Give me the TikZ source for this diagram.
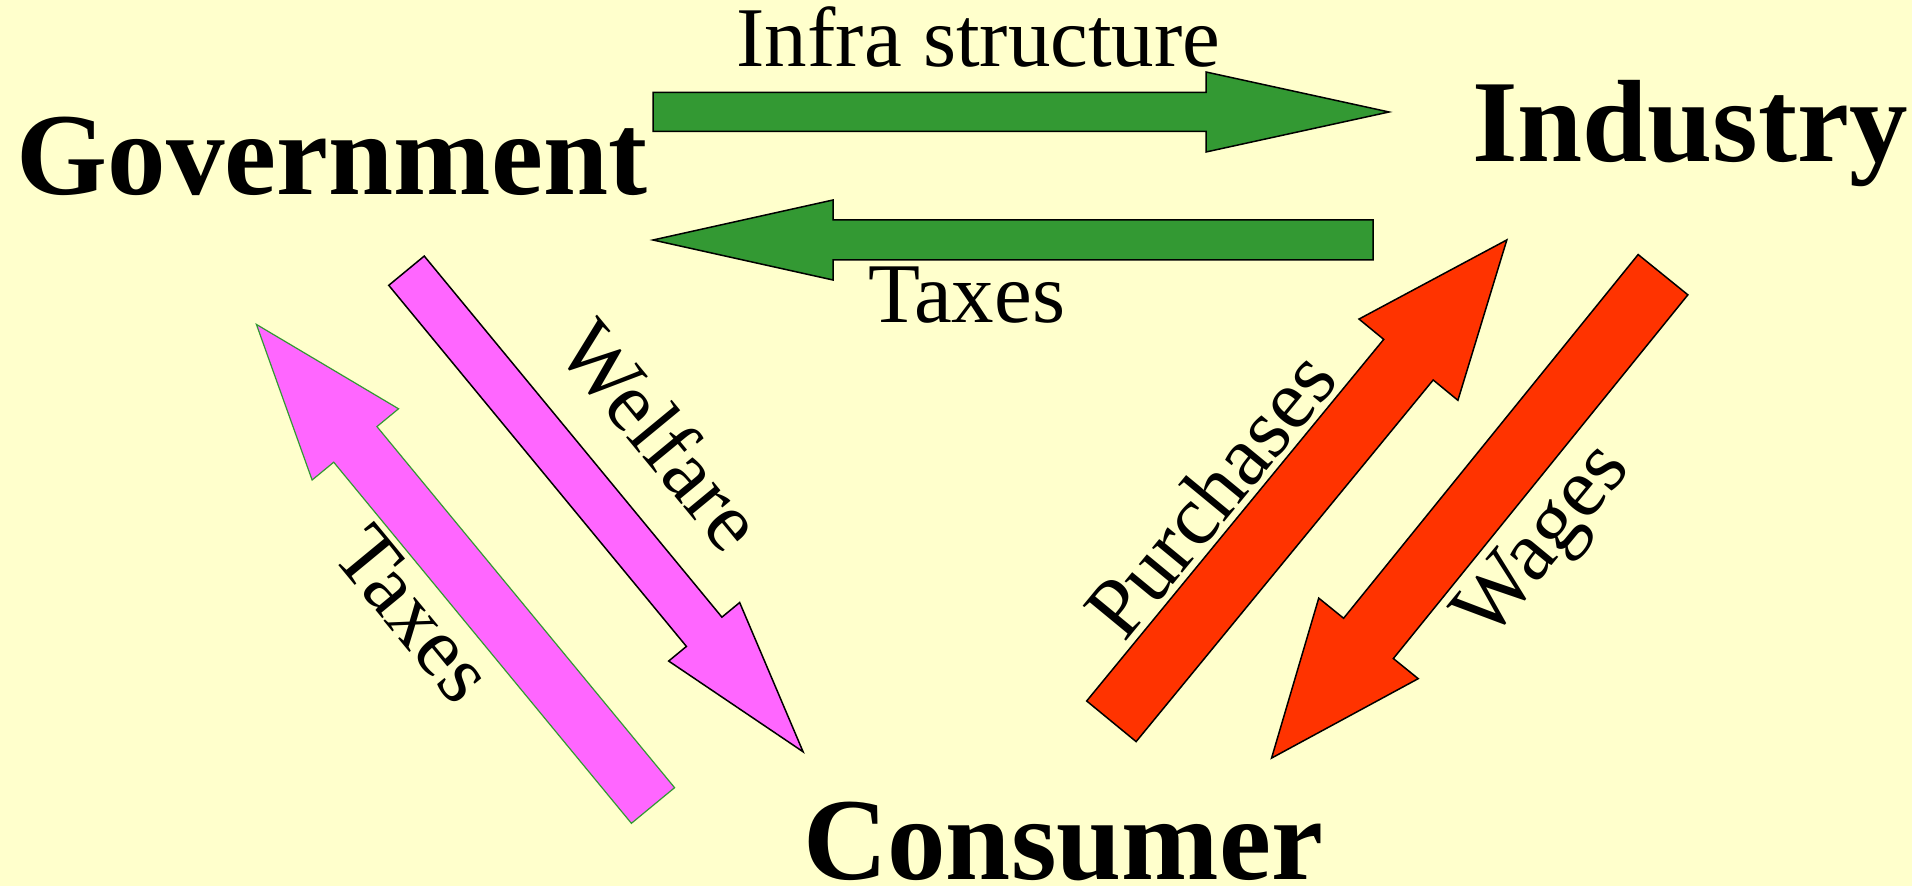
\documentclass[tikz,border=0pt]{standalone}
\usepackage{fontspec}
\setmainfont{Liberation Serif}
\usepackage{tikz}
\usetikzlibrary{positioning}
\definecolor{paper}{HTML}{FFFFCC}
\definecolor{leafgreen}{HTML}{339933}
\definecolor{pinkish}{HTML}{FF66FF}
\definecolor{flame}{HTML}{FF3300}
% #1 style, #2 tail, #3 angle, #4 shaft, #5 head, #6 half shaft, #7 half head
\newcommand{\blockarrow}[7]{%
  \begin{scope}[shift={(#2)},rotate=#3]
    \draw[#1] (0,-#6) -- (#4,-#6) -- (#4,-#7) -- ({#4+#5},0) -- (#4,#7) -- (#4,#6) -- (0,#6) -- cycle;
  \end{scope}}

\begin{document}
\begin{tikzpicture}[
  x=1pt,y=1pt,
  party/.style={font=\fontsize{117}{120}\selectfont\bfseries,inner sep=0pt,anchor=base},
  flow/.style={font=\fontsize{85}{88}\selectfont,inner sep=0pt},
  flowg/.style={fill=leafgreen,draw=black,line width=1.5pt,line join=miter},
  flowm/.style={fill=pinkish,draw=black,line width=1.5pt},
  flowmt/.style={fill=pinkish,draw=leafgreen,line width=1.2pt},
  flowr/.style={fill=flame,draw=black,line width=1.5pt}
]
\useasboundingbox (0,0) rectangle (1912,886);
\fill[paper] (0,0) rectangle (1912,886);

\node[party] (gov) at (332,691) {Government};
\node[party] (ind) at (1690,724) {Industry};
\node[party] (con) at (1063,6) {Consumer};

\coordinate (infraT) at (653,774);
\coordinate (taxT) at (1373,646);
\coordinate (welT) at (406.5,615.3);
\coordinate (taxlT) at (653,80.5);
\coordinate (purT) at (1111.4,164.7);
\coordinate (wagT) at (1663,611.3);

\blockarrow{flowg}{infraT}{0}{553}{183}{19.5}{40}
\blockarrow{flowg}{taxT}{180}{540}{180}{20}{40}
\blockarrow{flowm}{welT}{-50.5}{468}{155.5}{23}{46}
\blockarrow{flowmt}{taxlT}{129.5}{468}{155.5}{28}{56}
\blockarrow{flowr}{purT}{50.6}{468}{155}{32}{64}
\blockarrow{flowr}{wagT}{-129}{468}{154}{32}{64}

\node[flow,anchor=base] (infra) at (978.5,819) {Infra structure};
\node[flow,anchor=base] (taxtop) at (966.5,563) {Taxes};
\node[flow,rotate=-50.5] (welfare) at (662,451) {Welfare};
\node[flow,rotate=-50.5] (taxleft) at (414,272) {Taxes};
\node[flow,rotate=50.5] (purch) at (1210,392) {Purchases};
\node[flow,rotate=50.5] (wages) at (1546,342) {Wages};
\end{tikzpicture}
\end{document}
